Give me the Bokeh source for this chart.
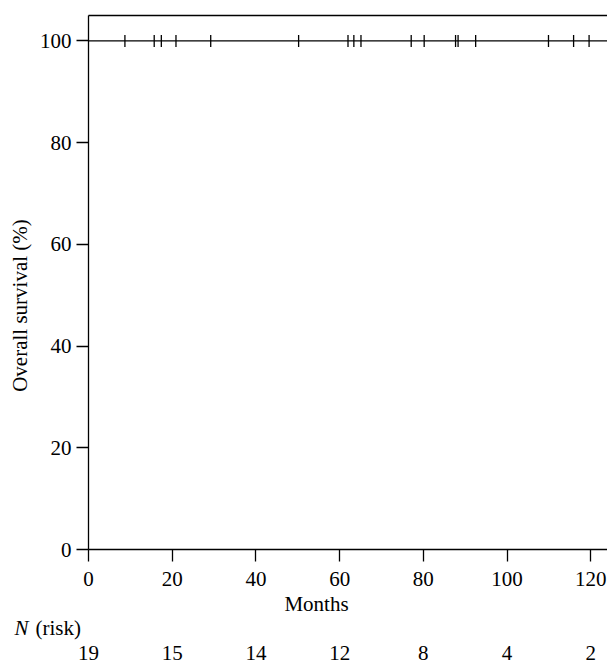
import numpy as np
from bokeh.plotting import figure
from bokeh.models import Range1d, LinearAxis, FixedTicker
from bokeh.core.properties import value
from bokeh.embed import file_html
from bokeh.resources import INLINE

# ---- data ----
km_time = [0, 125]
km_surv = [100, 100]
censor_times = [8.7, 15.7, 17.4, 20.9, 29.2, 50.2, 62.0, 63.4, 65.1,
                77.1, 80.2, 87.7, 88.3, 92.5, 109.9, 115.9, 119.6]
censor_surv = [100] * len(censor_times)
x_ticks = [0, 20, 40, 60, 80, 100, 120]
y_ticks = [0, 20, 40, 60, 80, 100]
risk_times = [0, 20, 40, 60, 80, 100, 120]
n_at_risk = [19, 15, 14, 12, 8, 4, 2]

FONT = "Liberation Serif"
FS = "21px"
W, H = 607, 664
X0_PX, Y0_PX = 88, 549          # pixel position of the (0, 0) corner of the axes
X_END, Y_END = 124, 105
sx = (W - X0_PX) / X_END         # px per month
sy = (Y0_PX - 15) / Y_END        # px per percent
SHIFT = 8                        # renderer's baseline offset for text glyphs


def px_x(px):
    return (px - X0_PX) / sx


def px_y(py):
    return (Y0_PX - py) / sy


p = figure(frame_width=W, frame_height=H, title=None,
           x_range=Range1d(px_x(0), X_END), y_range=Range1d(px_y(H), px_y(0)),
           output_backend="svg", toolbar_location=None,
           min_border_left=0, min_border_top=0, min_border_right=0, min_border_bottom=0)
p.outline_line_color = None
p.xgrid.visible = False
p.ygrid.visible = False

# survival curve with censor marks
p.step(km_time, km_surv, mode="after", line_color="black", line_width=1.3)
p.scatter(censor_times, censor_surv, marker="dash", angle=np.pi / 2, size=12,
          line_color="black", line_width=1.3)

xa, ya = p.xaxis[0], p.yaxis[0]
xa.fixed_location = 0
ya.fixed_location = 0
xa.bounds = (0, X_END)
ya.bounds = (0, Y_END)
for ax in (xa, ya):
    ax.axis_line_color = "black"
    ax.axis_line_width = 1.3
    ax.major_tick_line_color = "black"
    ax.major_tick_line_width = 1.3
    ax.major_tick_out = 12
    ax.major_tick_in = 0
    ax.minor_tick_line_color = None
    ax.major_label_text_font = FONT
    ax.major_label_text_font_size = FS
    ax.major_label_text_color = "black"
xa.ticker = FixedTicker(ticks=x_ticks)
ya.ticker = FixedTicker(ticks=y_ticks)
xa.major_label_standoff = 10
ya.major_label_standoff = 5

# top border of the plotting area
top_ax = LinearAxis(fixed_location=Y_END, bounds=(0, X_END), ticker=FixedTicker(ticks=[]),
                    axis_line_color="black", axis_line_width=1.3,
                    major_tick_line_color=None, minor_tick_line_color=None,
                    major_label_text_font_size="0px")
p.add_layout(top_ax, "above")

# titles and the numbers-at-risk table
txt = dict(text_font=value(FONT), text_font_size=FS, text_color="black",
           text_baseline="alphabetic")
p.text(x=[px_x(27.5 - SHIFT)], y=[px_y(305)], text=["Overall survival (%)"], angle=np.pi / 2,
       text_align="center", **txt)
p.text(x=[px_x(316)], y=[px_y(611.7 - SHIFT)], text=["Months"], text_align="center", **txt)
p.text(x=[px_x(14)], y=[px_y(635 - SHIFT)], text=["N"], text_align="left",
       text_font_style="italic", **txt)
p.text(x=[px_x(35)], y=[px_y(635 - SHIFT)], text=["(risk)"], text_align="left", **txt)
p.text(x=risk_times, y=[px_y(660 - SHIFT)] * len(risk_times), text=[str(n) for n in n_at_risk],
       text_align="center", **txt)

open("out.html", "w").write(file_html(p, INLINE))
